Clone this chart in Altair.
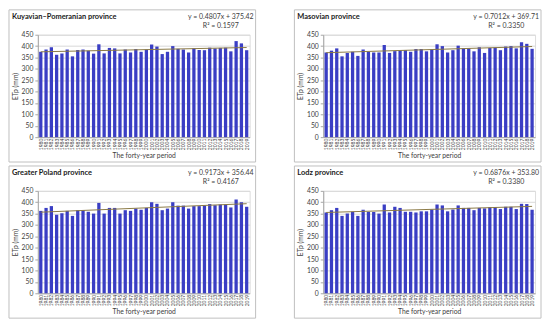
import altair as alt
import pandas as pd

years = list(range(1980, 2020))

kuy = [375, 385, 395, 362, 368, 385, 355, 383, 385, 380,
       367, 408, 368, 392, 390, 368, 385, 372, 387, 375,
       385, 407, 398, 365, 375, 400, 388, 385, 372, 390,
       383, 382, 393, 390, 392, 393, 377, 422, 412, 382]
mas = [372, 380, 390, 355, 370, 375, 357, 385, 375, 372,
       372, 405, 370, 378, 380, 382, 375, 387, 387, 377,
       385, 408, 400, 372, 382, 402, 390, 390, 377, 395,
       370, 392, 393, 382, 398, 400, 390, 417, 410, 388]
gre = [362, 375, 383, 345, 352, 362, 340, 365, 365, 358,
       350, 397, 350, 375, 375, 350, 365, 362, 372, 367,
       375, 400, 393, 365, 372, 400, 385, 385, 372, 383,
       383, 385, 392, 387, 390, 390, 377, 412, 400, 380]
lod = [355, 365, 375, 340, 350, 358, 340, 367, 358, 357,
       350, 390, 355, 380, 375, 358, 358, 355, 360, 360,
       368, 390, 386, 360, 368, 386, 375, 375, 365, 375,
       373, 378, 378, 370, 380, 380, 370, 393, 392, 367]

titles = ["Kuyavian\u2013Pomeranian province", "Masovian province",
          "Greater Poland province", "Lodz province"]
equations = ["y = 0.4807x + 375.42", "y = 0.7012x + 369.71",
             "y = 0.9173x + 356.44", "y = 0.6876x + 353.80"]
r2s = ["R\u00b2 = 0.1597", "R\u00b2 = 0.3350", "R\u00b2 = 0.4167", "R\u00b2 = 0.3380"]
series = [kuy, mas, gre, lod]

FONT = "Lato"
W, H = 213, 103
LP, RP, TP, BP = 29, 6, 25, 25
BAR = "#3a3ec4"
TREND = "#8b7a46"
TXT = "#404040"

x_axis = alt.Axis(title="The forty-year period", labelAngle=270,
                  labelFontSize=5, labelColor=TXT, labelPadding=1,
                  labelOverlap=False, ticks=False, domainColor="#a6a6a6",
                  titleFontSize=6.8, titleFontWeight="normal",
                  titleColor=TXT, titlePadding=3)
y_axis = alt.Axis(title="ETp (mm)", values=list(range(0, 451, 50)),
                  labelFontSize=6.8, labelColor=TXT, tickSize=3,
                  labelOverlap=False, labelFlush=False,
                  tickColor="#a6a6a6", domainColor="#a6a6a6",
                  gridColor="#d9d9d9", labelPadding=2,
                  titleFontSize=6.8, titleFontWeight="normal",
                  titleColor=TXT, titlePadding=3)


def panel(values, title, eq, r2):
    df = pd.DataFrame({"year": years, "etp": values})
    base = alt.Chart(df)
    x = alt.X("year:O", scale=alt.Scale(paddingInner=0.38, paddingOuter=0.25),
              axis=x_axis)
    y = alt.Y("etp:Q", scale=alt.Scale(domain=[0, 450], nice=False), axis=y_axis)
    bars = base.mark_bar(color=BAR).encode(x=x, y=y)
    trend = base.transform_regression("year", "etp").mark_line(
        color=TREND, strokeWidth=1).encode(x=x, y=y)
    one = pd.DataFrame({"k": [0]})
    frame = alt.Chart(one).mark_rect(fill="transparent", stroke="#bfbfbf",
                                     strokeWidth=1).encode(
        x=alt.value(-LP), x2=alt.value(W + RP),
        y=alt.value(-TP), y2=alt.value(H + BP))
    ttl = alt.Chart(one).mark_text(text=title, align="left", baseline="middle",
                                   fontSize=7.5, fontWeight="bold",
                                   color="#1a1a1a", font=FONT).encode(
        x=alt.value(-LP + 3), y=alt.value(-18))
    eqt = alt.Chart(one).mark_text(text=eq, align="center", baseline="middle",
                                   fontSize=7, color=TXT, font=FONT).encode(
        x=alt.value(W - 29), y=alt.value(-18))
    r2t = alt.Chart(one).mark_text(text=r2, align="center", baseline="middle",
                                   fontSize=7, color=TXT, font=FONT).encode(
        x=alt.value(W - 29), y=alt.value(-9))
    return alt.layer(bars, trend, frame, ttl, eqt, r2t).properties(width=W, height=H)


p = [panel(series[i], titles[i], equations[i], r2s[i]) for i in range(4)]

chart = alt.vconcat(
    alt.hconcat(p[0], p[1], spacing=37),
    alt.hconcat(p[2], p[3], spacing=37),
    spacing=2,
).properties(padding=0).configure_view(strokeWidth=0).configure(
    font=FONT
)

chart.save("out.html", embed_options={"renderer": "svg", "actions": False})
